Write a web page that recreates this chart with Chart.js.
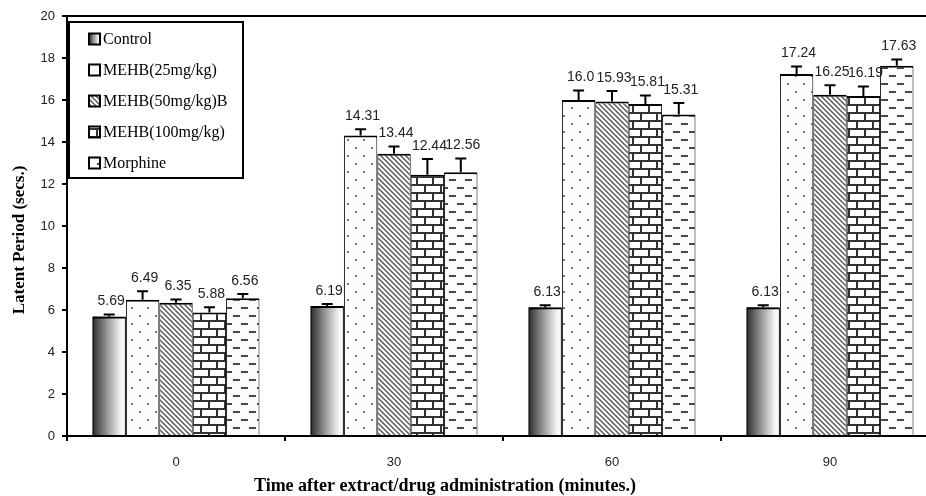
<!DOCTYPE html>
<html>
<head>
<meta charset="utf-8">
<script src="https://cdn.jsdelivr.net/npm/chart.js@4.4.1/dist/chart.umd.min.js"></script>
<style>
  html, body { margin: 0; padding: 0; background: #fff; overflow: hidden; }
  #wrap { width: 945px; height: 496px; }
</style>
</head>
<body>
<div id="wrap"><canvas id="chart" width="945" height="496"></canvas></div>
<script>
(function () {
  'use strict';

  // time points (minutes)
  var categories = ['0', '30', '60', '90'];
  var seriesNames = ['Control', 'MEHB(25mg/kg)', 'MEHB(50mg/kg)B', 'MEHB(100mg/kg)', 'Morphine'];

  // latent period means (secs.)
  var control = [5.69, 6.19, 6.13, 6.13];
  var mehb25 = [6.49, 14.31, 16.0, 17.24];
  var mehb50 = [6.35, 13.44, 15.93, 16.25];
  var mehb100 = [5.88, 12.44, 15.81, 16.19];
  var morphine = [6.56, 12.56, 15.31, 17.63];

  // error bar sizes
  var controlErr = [0.1, 0.1, 0.1, 0.1];
  var mehb25Err = [0.4, 0.3, 0.45, 0.35];
  var mehb50Err = [0.15, 0.35, 0.5, 0.45];
  var mehb100Err = [0.25, 0.75, 0.4, 0.45];
  var morphineErr = [0.2, 0.65, 0.55, 0.3];

  var yTicks = [0, 20, 2]; // min, max, step

  var serifFont = '"Liberation Serif", "Times New Roman", serif';
  var sansFont = '"Liberation Sans", Arial, sans-serif';

  function makePattern(kind) {
    var c = document.createElement('canvas');
    var g = c.getContext('2d');
    if (kind === 'dots') {
      c.width = 16; c.height = 16;
      g.fillStyle = '#fcfcfc'; g.fillRect(0, 0, 16, 16);
      g.fillStyle = '#777';
      g.fillRect(3, 3, 2, 2);
      g.fillRect(11, 11, 2, 2);
    } else if (kind === 'diag') {
      c.width = 5; c.height = 5;
      g.fillStyle = '#fff'; g.fillRect(0, 0, 5, 5);
      g.strokeStyle = '#5a5a5a'; g.lineWidth = 1.5;
      g.beginPath();
      g.moveTo(-1, -1); g.lineTo(6, 6);
      g.moveTo(-1, 4); g.lineTo(1, 6);
      g.moveTo(4, -1); g.lineTo(6, 1);
      g.stroke();
    } else if (kind === 'brick') {
      c.width = 16; c.height = 16;
      g.fillStyle = '#fff'; g.fillRect(0, 0, 16, 16);
      g.fillStyle = '#333';
      g.fillRect(0, 0, 16, 2);
      g.fillRect(0, 8, 16, 2);
      g.fillRect(0, 0, 2, 8);
      g.fillRect(8, 8, 2, 8);
    } else if (kind === 'dash') {
      c.width = 16; c.height = 16;
      g.fillStyle = '#fcfcfc'; g.fillRect(0, 0, 16, 16);
      g.fillStyle = '#444';
      g.fillRect(1, 3, 7, 2);
      g.fillRect(9, 11, 7, 2);
    }
    return g.createPattern(c, 'repeat');
  }

  var fills = [
    'rgba(0,0,0,0)',
    makePattern('dots'),
    makePattern('diag'),
    makePattern('brick'),
    makePattern('dash'),
  ];

  var values = [control, mehb25, mehb50, mehb100, morphine];
  var errors = [controlErr, mehb25Err, mehb50Err, mehb100Err, morphineErr];

  function fmt(v) {
    return v % 1 === 0 ? v.toFixed(1) : String(v);
  }

  function controlGradient(ctx, x0, x1) {
    var gr = ctx.createLinearGradient(x0, 0, x1, 0);
    gr.addColorStop(0, '#2b2b2b');
    gr.addColorStop(0.45, '#9a9a9a');
    gr.addColorStop(0.85, '#f4f4f4');
    gr.addColorStop(1, '#ffffff');
    return gr;
  }

  var paintPlugin = {
    id: 'paint',
    beforeDatasetDraw: function (chart, args) {
      if (args.index !== 0) return;
      var ctx = chart.ctx;
      var meta = chart.getDatasetMeta(0);
      ctx.save();
      meta.data.forEach(function (el) {
        var p = el.getProps(['x', 'y', 'base', 'width']);
        var x0 = p.x - p.width / 2;
        var x1 = p.x + p.width / 2;
        ctx.fillStyle = controlGradient(ctx, x0, x1);
        ctx.fillRect(x0, p.y, p.width, p.base - p.y);
      });
      ctx.restore();
    },
    afterDatasetsDraw: function (chart) {
      var ctx = chart.ctx;
      var yScale = chart.scales.y;
      ctx.save();
      values.forEach(function (vals, i) {
        var meta = chart.getDatasetMeta(i);
        meta.data.forEach(function (el, j) {
          var p = el.getProps(['x', 'y']);
          var top = yScale.getPixelForValue(vals[j] + errors[i][j]);
          ctx.strokeStyle = '#000';
          ctx.lineWidth = 2;
          ctx.beginPath();
          ctx.moveTo(p.x, p.y);
          ctx.lineTo(p.x, top);
          ctx.moveTo(p.x - 5.5, top);
          ctx.lineTo(p.x + 5.5, top);
          ctx.stroke();
          ctx.fillStyle = '#222';
          ctx.font = '14px ' + sansFont;
          ctx.textAlign = 'center';
          ctx.textBaseline = 'middle';
          ctx.fillText(fmt(vals[j]), p.x + 2, top - 13);
        });
      });
      ctx.restore();
    },
    afterDraw: function (chart) {
      var ctx = chart.ctx;
      var area = chart.chartArea;
      ctx.save();
      // plot frame top / right
      ctx.strokeStyle = '#000';
      ctx.lineWidth = 2;
      ctx.beginPath();
      ctx.moveTo(area.left, area.top);
      ctx.lineTo(area.right, area.top);
      ctx.lineTo(area.right, area.bottom);
      ctx.stroke();

      // legend box
      var lx = area.left + 2, ly = area.top + 6, lw = 174, lh = 156;
      ctx.fillStyle = '#fff';
      ctx.fillRect(lx, ly, lw, lh);
      ctx.strokeRect(lx, ly, lw, lh);
      ctx.font = '16px ' + serifFont;
      ctx.textAlign = 'left';
      ctx.textBaseline = 'middle';
      seriesNames.forEach(function (name, i) {
        var cy = ly + 17 + i * 31;
        var sx = lx + 20;
        if (i === 0) {
          ctx.fillStyle = controlGradient(ctx, sx, sx + 11);
        } else {
          ctx.fillStyle = fills[i];
        }
        ctx.fillRect(sx, cy - 5.5, 11, 11);
        ctx.lineWidth = 2;
        ctx.strokeStyle = '#000';
        ctx.strokeRect(sx, cy - 5.5, 11, 11);
        ctx.fillStyle = '#000';
        ctx.fillText(name, sx + 14, cy + 1);
      });

      // axis titles
      ctx.font = 'bold 18px ' + serifFont;
      ctx.textAlign = 'center';
      ctx.textBaseline = 'middle';
      ctx.fillStyle = '#000';
      ctx.fillText('Time after extract/drug administration (minutes.)', 445, 486);

      ctx.font = 'bold 17px ' + serifFont;
      ctx.translate(20, 240);
      ctx.rotate(-Math.PI / 2);
      ctx.fillText('Latent Period (secs.)', 0, 0);
      ctx.restore();
    },
  };

  var datasets = values.map(function (vals, i) {
    return {
      label: seriesNames[i],
      data: vals,
      backgroundColor: fills[i],
      borderColor: '#000',
      borderWidth: { top: 2, left: 1, right: 1, bottom: 0 },
      borderSkipped: false,
      categoryPercentage: 0.766,
      barPercentage: 1.0,
    };
  });

  new Chart(document.getElementById('chart'), {
    type: 'bar',
    data: { labels: categories, datasets: datasets },
    options: {
      responsive: false,
      animation: false,
      devicePixelRatio: 1,
      layout: { padding: { top: 16, right: 6, left: 0, bottom: 0 } },
      plugins: {
        legend: { display: false },
        tooltip: { enabled: false },
      },
      scales: {
        x: {
          afterFit: function (scale) { scale.height = 60; },
          border: { color: '#000', width: 2 },
          grid: { drawOnChartArea: false, color: '#000', lineWidth: 2, tickLength: 5 },
          ticks: { color: '#222', padding: 14, font: { family: sansFont, size: 13 } },
        },
        y: {
          min: yTicks[0],
          max: yTicks[1],
          afterFit: function (scale) { scale.width = 67; },
          border: { color: '#000', width: 2 },
          grid: { drawOnChartArea: false, color: '#000', lineWidth: 2, tickLength: 5 },
          ticks: { stepSize: yTicks[2], color: '#222', padding: 7, font: { family: sansFont, size: 13 } },
        },
      },
    },
    plugins: [paintPlugin],
  });
})();
</script>
</body>
</html>
